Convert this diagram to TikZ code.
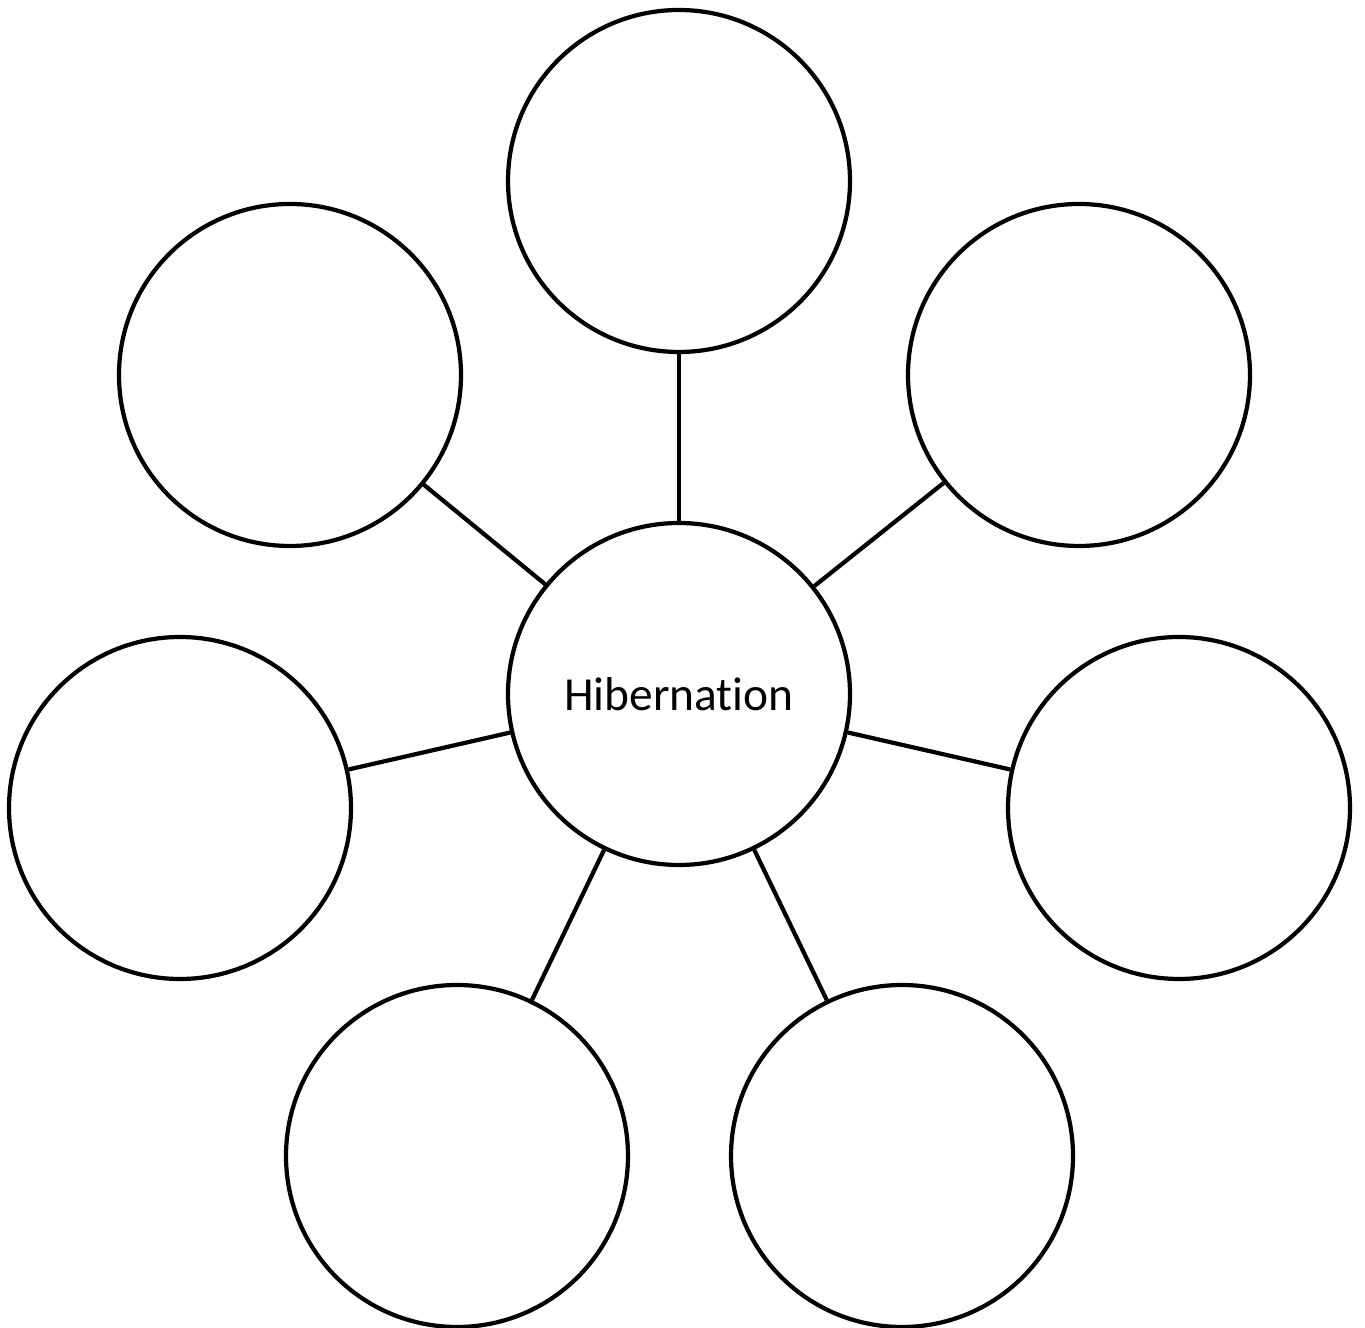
\documentclass[tikz,border=0pt]{standalone}
\usepackage{fontspec}
\setmainfont[Ligatures=NoCommon]{Carlito}
\begin{document}
\begin{tikzpicture}[
    bubble/.style = {draw, circle, line width=1.2pt, minimum size=3.42cm, inner sep=0pt},
    spoke/.style = {line width=1.2pt}
]
    % Page frame
    \useasboundingbox (0,0) rectangle (13.65,13.28);

    % Central topic
    \node[bubble, font=\fontsize{13.5}{16}\selectfont] (hib) at (6.79,6.34) {Hibernation};

    % Outer bubbles
    \node[bubble] (top) at (6.79,11.47) {};
    \node[bubble] (upleft) at (2.90,9.53) {};
    \node[bubble] (upright) at (10.79,9.53) {};
    \node[bubble] (left) at (1.80,5.20) {};
    \node[bubble] (right) at (11.79,5.20) {};
    \node[bubble] (lowleft) at (4.57,1.72) {};
    \node[bubble] (lowright) at (9.02,1.72) {};

    % Spokes
    \foreach \n in {top,upleft,upright,left,right,lowleft,lowright}
        \draw[spoke] (hib) -- (\n);
\end{tikzpicture}
\end{document}
